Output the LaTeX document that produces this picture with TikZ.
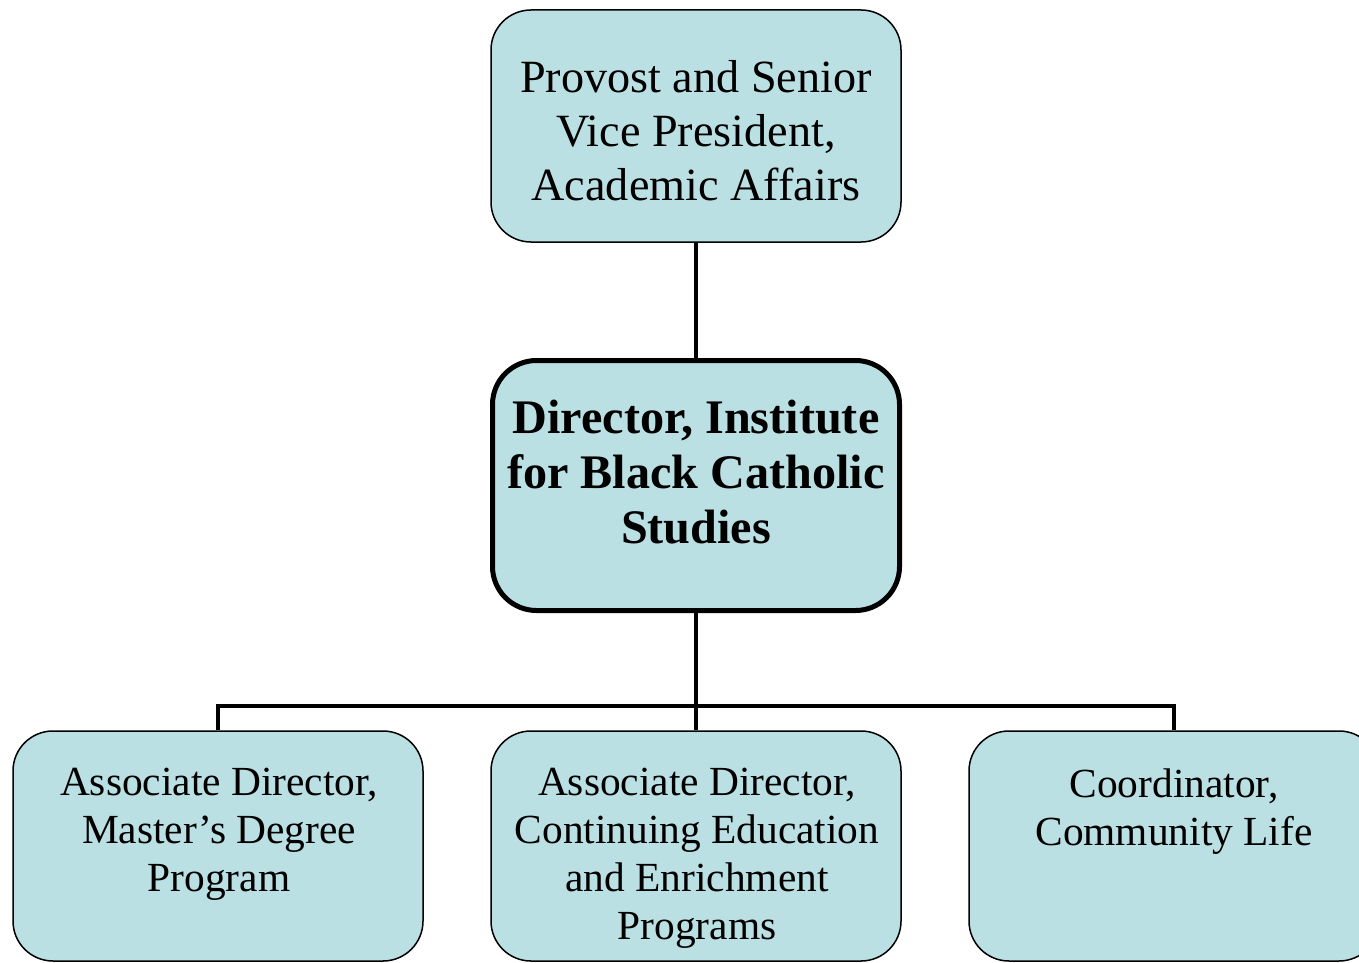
\documentclass[tikz,border=0pt]{standalone}
\usepackage{fontspec}
\setmainfont{Liberation Serif}
\definecolor{boxfill}{RGB}{187,224,227}
\begin{document}
\begin{tikzpicture}[x=0.5pt,y=-0.5pt,
  box/.style={draw=black, fill=boxfill, rounded corners=20pt, line width=0.75pt,
    minimum width=205pt, inner sep=0pt},
  mainbox/.style={box, line width=2.5pt, rounded corners=22pt, minimum width=203.5pt},
  conn/.style={line width=2.25pt, line join=miter},
  toptext/.style={anchor=north, inner sep=0pt, align=center, font=\fontsize{23.1}{27}\selectfont},
  maintext/.style={anchor=north, inner sep=0pt, align=center, font=\fontsize{24.1}{27.5}\selectfont\bfseries},
  subtext/.style={anchor=north, inner sep=0pt, align=center, font=\fontsize{20.7}{24}\selectfont}
]
\useasboundingbox (0,0) rectangle (1359,963);
\clip (0,0) rectangle (1359,963);

\node[box, minimum height=116pt] (top) at (696,126) {};
\node[mainbox, minimum height=125pt] (mid) at (696,485.5) {};
\node[box, minimum height=115pt] (bl) at (218,846) {};
\node[box, minimum height=115pt] (bm) at (696,846) {};
\node[box, minimum height=115pt] (br) at (1174,846) {};

\node[toptext] (ttop) at (696,60) {Provost and Senior\\Vice President,\\Academic Affairs};
\node[maintext] (tmid) at (696,400) {Director, Institute\\for Black Catholic\\Studies};
\node[subtext] (tbl) at (219,768) {Associate Director,\\Master’s Degree\\Program};
\node[subtext] (tbm) at (697,768) {Associate Director,\\Continuing Education\\and Enrichment\\Programs};
\node[subtext] (tbr) at (1174,768) {Coordinator,\\Community Life};

\coordinate (bus) at (696,706);
\draw[conn] (top.south) -- (mid.north);
\draw[conn] (mid.south) -- (bm.north);
\draw[conn] (bl.north) |- (bus) -| (br.north);
\end{tikzpicture}
\end{document}
